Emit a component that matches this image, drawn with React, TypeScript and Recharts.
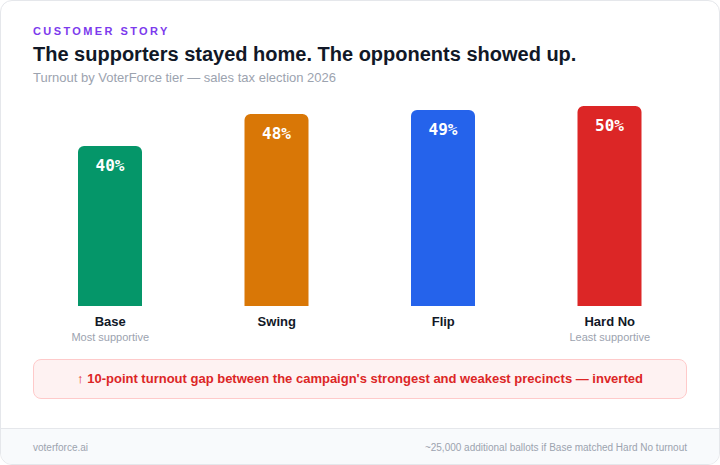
import { BarChart, Bar, XAxis, YAxis, Cell, LabelList } from 'recharts';

const tiers = ['Base', 'Swing', 'Flip', 'Hard No'];
const turnout = [40, 48, 49, 50];
const subLabels = ['Most supportive', '', '', 'Least supportive'];
const tierColors = ['#059669', '#d97706', '#2563eb', '#dc2626'];

const data = tiers.map((tier, i) => ({ tier, turnout: turnout[i], sub: subLabels[i] }));

const SANS = '"Liberation Sans", Arial, Helvetica, sans-serif';
const MONO = '"DejaVu Sans Mono", "Liberation Mono", monospace';

function TierTick(props: any) {
  const { x, y, payload, index } = props;
  const sub = subLabels[index ?? tiers.indexOf(payload.value)];
  return (
    <g transform={`translate(${x},${y})`}>
      <text x={0} y={20} textAnchor="middle" fill="#111827" fontSize={13} fontWeight={700} fontFamily={SANS}>
        {payload.value}
      </text>
      {sub && (
        <text x={0} y={35} textAnchor="middle" fill="#9ca3af" fontSize={11} fontFamily={SANS}>
          {sub}
        </text>
      )}
    </g>
  );
}

function ValueLabel(props: any) {
  const { x, y, width, value } = props;
  return (
    <text
      x={Number(x) + Number(width) / 2}
      y={Number(y) + 25}
      textAnchor="middle"
      fill="#ffffff"
      fontSize={16}
      fontWeight={700}
      fontFamily={MONO}
    >
      {`${value}%`}
    </text>
  );
}

export default function App() {
  return (
    <div
      style={{
        position: 'absolute',
        left: 0,
        top: 0,
        width: 720,
        height: 465,
        boxSizing: 'border-box',
        border: '1px solid #e5e7eb',
        borderRadius: 12,
        overflow: 'hidden',
        background: '#ffffff',
        fontFamily: SANS,
      }}
    >
      <div
        style={{
          position: 'absolute',
          left: 32,
          top: 23,
          fontSize: 11,
          lineHeight: '14px',
          fontWeight: 700,
          letterSpacing: 2.4,
          color: '#7c3aed',
        }}
      >
        CUSTOMER STORY
      </div>
      <div
        style={{
          position: 'absolute',
          left: 32,
          top: 41,
          fontSize: 20,
          lineHeight: '24px',
          fontWeight: 700,
          color: '#111827',
        }}
      >
        The supporters stayed home. The opponents showed up.
      </div>
      <div
        style={{
          position: 'absolute',
          left: 32,
          top: 69,
          fontSize: 13,
          lineHeight: '16px',
          color: '#9ca3af',
        }}
      >
        Turnout by VoterForce tier — sales tax election 2026
      </div>

      <div style={{ position: 'absolute', left: -1, top: 89 }}>
        <BarChart
          width={720}
          height={260}
          data={data}
          margin={{ top: 16, right: 27, left: 27, bottom: 0 }}
        >
          <XAxis
            dataKey="tier"
            axisLine={false}
            tickLine={false}
            tickSize={0}
            tickMargin={0}
            height={44}
            interval={0}
            tick={<TierTick />}
          />
          <YAxis hide domain={[0, 50]} />
          <Bar dataKey="turnout" barSize={64} radius={[6, 6, 0, 0]} isAnimationActive={false}>
            {data.map((d, i) => (
              <Cell key={d.tier} fill={tierColors[i]} />
            ))}
            <LabelList dataKey="turnout" content={<ValueLabel />} />
          </Bar>
        </BarChart>
      </div>

      <div
        style={{
          position: 'absolute',
          left: 32,
          top: 358,
          width: 654,
          height: 40,
          boxSizing: 'border-box',
          background: '#fef2f2',
          border: '1px solid #fecaca',
          borderRadius: 8,
          textAlign: 'center',
          fontSize: 13,
          lineHeight: '38px',
          fontWeight: 700,
          color: '#dc2626',
        }}
      >
        ↑ 10-point turnout gap between the campaign's strongest and weakest precincts — inverted
      </div>

      <div
        style={{
          position: 'absolute',
          left: 0,
          top: 427,
          width: 718,
          height: 37,
          boxSizing: 'border-box',
          background: '#f8fafc',
          borderTop: '1px solid #e5e7eb',
          display: 'flex',
          justifyContent: 'space-between',
          alignItems: 'center',
          padding: '0 32px',
          fontSize: 10,
          color: '#9ca3af',
        }}
      >
        <span>voterforce.ai</span>
        <span>~25,000 additional ballots if Base matched Hard No turnout</span>
      </div>
    </div>
  );
}
